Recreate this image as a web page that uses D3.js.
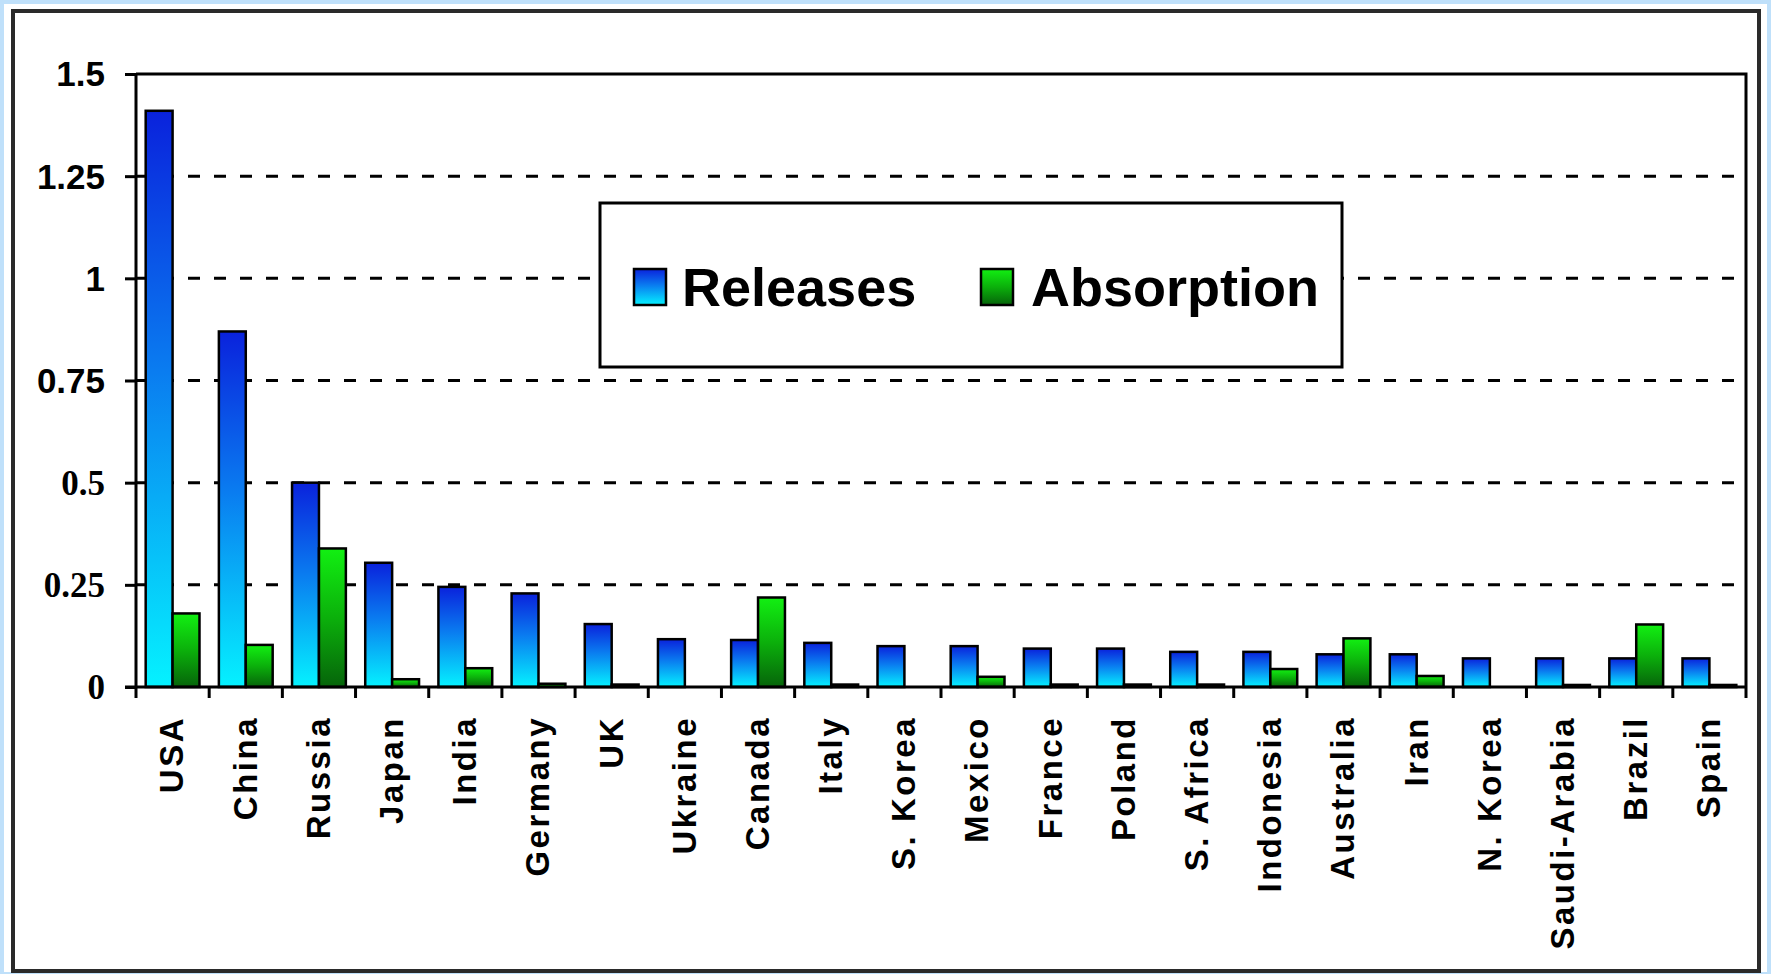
<!DOCTYPE html>
<html>
<head>
<meta charset="utf-8">
<script src="https://cdn.jsdelivr.net/npm/d3@7"></script>
<style>
  html, body { margin: 0; padding: 0; background: #bfe0fa; }
  #d3-container { width: 1771px; height: 974px; }
</style>
</head>
<body>
<div id="d3-container"></div>
<script>
// categories and series
const countries = ["USA", "China", "Russia", "Japan", "India", "Germany", "UK", "Ukraine",
  "Canada", "Italy", "S. Korea", "Mexico", "France", "Poland", "S. Africa", "Indonesia",
  "Australia", "Iran", "N. Korea", "Saudi-Arabia", "Brazil", "Spain"];
const releases = [1.41, 0.87, 0.5, 0.304, 0.245, 0.229, 0.154, 0.117, 0.115, 0.108, 0.1, 0.1,
  0.094, 0.094, 0.086, 0.086, 0.08, 0.08, 0.07, 0.07, 0.07, 0.07];
const absorption = [0.18, 0.103, 0.339, 0.019, 0.046, 0.008, 0.006, 0, 0.219, 0.006, 0, 0.025,
  0.006, 0.006, 0.006, 0.044, 0.119, 0.027, 0, 0.005, 0.153, 0.005];
const seriesNames = ["Releases", "Absorption"];
const yTicks = [0, 0.25, 0.5, 0.75, 1, 1.25, 1.5];

const width = 1771;
const height = 974;
const plot = { left: 136, right: 1746, top: 74, bottom: 687 };

const svg = d3.select('#d3-container')
  .append('svg')
  .attr('width', width)
  .attr('height', height);

// gradients for the two series
const defs = svg.append('defs');
const gBlue = defs.append('linearGradient').attr('id', 'gradBlue')
  .attr('x1', 0).attr('y1', 0).attr('x2', 0).attr('y2', 1);
gBlue.append('stop').attr('offset', '0%').attr('stop-color', '#0a22dc');
gBlue.append('stop').attr('offset', '45%').attr('stop-color', '#0a7cf0');
gBlue.append('stop').attr('offset', '100%').attr('stop-color', '#05f2ff');
const gGreen = defs.append('linearGradient').attr('id', 'gradGreen')
  .attr('x1', 0).attr('y1', 0).attr('x2', 0).attr('y2', 1);
gGreen.append('stop').attr('offset', '0%').attr('stop-color', '#12f012');
gGreen.append('stop').attr('offset', '50%').attr('stop-color', '#0bb00b');
gGreen.append('stop').attr('offset', '100%').attr('stop-color', '#06640a');
const fills = { Releases: 'url(#gradBlue)', Absorption: 'url(#gradGreen)' };

// white card with dark frame
svg.append('rect').attr('x', 4).attr('y', 4).attr('width', 1763).attr('height', 968)
  .attr('fill', '#ffffff');
svg.append('rect').attr('x', 13).attr('y', 11).attr('width', 1746).attr('height', 960)
  .attr('fill', 'none').attr('stroke', '#2a2a2a').attr('stroke-width', 4);

// scales
const x = d3.scaleBand()
  .domain(countries)
  .range([plot.left, plot.right])
  .padding(0);

const x1 = d3.scaleBand()
  .domain(seriesNames)
  .range([0, x.bandwidth()])
  .paddingInner(0)
  .paddingOuter(0.36);

const y = d3.scaleLinear()
  .domain([0, 1.5])
  .range([plot.bottom, plot.top]);

// dashed gridlines
svg.append('g')
  .selectAll('line')
  .data(yTicks.filter(d => d > 0 && d < 1.5))
  .join('line')
    .attr('x1', plot.left).attr('x2', plot.right)
    .attr('y1', d => y(d)).attr('y2', d => y(d))
    .attr('stroke', '#000').attr('stroke-width', 3)
    .attr('stroke-dasharray', '12,14');

// legend box (drawn over gridlines)
const legend = svg.append('g');
legend.append('rect').attr('x', 600).attr('y', 203).attr('width', 742).attr('height', 164)
  .attr('fill', '#fff').attr('stroke', '#000').attr('stroke-width', 3);
const legendPos = [{ sx: 634, tx: 682 }, { sx: 981, tx: 1031 }];
seriesNames.forEach((s, i) => {
  legend.append('rect').attr('x', legendPos[i].sx).attr('y', 269).attr('width', 32).attr('height', 36)
    .attr('fill', fills[s]).attr('stroke', '#000').attr('stroke-width', 2.5);
  legend.append('text').attr('x', legendPos[i].tx).attr('y', 306)
    .attr('font-family', 'Liberation Sans, Arial, sans-serif')
    .attr('font-weight', 'bold').attr('font-size', '54px')
    .attr('fill', '#000').text(s);
});

// bars
const rows = countries.map((c, i) => ({ country: c, Releases: releases[i], Absorption: absorption[i] }));
svg.append('g')
  .selectAll('g')
  .data(rows)
  .join('g')
    .attr('transform', d => `translate(${x(d.country)},0)`)
  .selectAll('rect')
  .data(d => seriesNames.map(s => ({ key: s, value: d[s] })).filter(v => v.value > 0))
  .join('rect')
    .attr('x', d => x1(d.key))
    .attr('width', x1.bandwidth())
    .attr('y', d => y(d.value))
    .attr('height', d => y(0) - y(d.value))
    .attr('fill', d => fills[d.key])
    .attr('stroke', '#000')
    .attr('stroke-width', 2.5);

// plot frame: top and right solid lines
svg.append('path')
  .attr('d', `M${plot.left},${plot.top}H${plot.right}V${plot.bottom}`)
  .attr('fill', 'none').attr('stroke', '#000').attr('stroke-width', 3);

// y axis
function yAxis(g) {
  g.attr('transform', `translate(${plot.left},0)`)
    .call(d3.axisLeft(y).tickValues(yTicks).tickSize(11).tickPadding(20)
      .tickFormat(d => d3.format('')(d)));
  g.select('.domain').attr('stroke-width', 3).attr('d', `M0,${plot.top}V${plot.bottom}`);
  g.selectAll('.tick line').attr('stroke-width', 3);
  g.selectAll('text')
    .attr('font-size', '35px')
    .attr('font-weight', 'bold')
    .attr('fill', '#000')
    .attr('dy', '0.34em')
    .attr('font-family', d => d < 0.75 ? 'Liberation Serif, Times New Roman, serif' : 'Liberation Sans, Arial, sans-serif');
}

// x axis: ticks at band edges, labels rotated
function xAxis(g) {
  g.attr('transform', `translate(0,${plot.bottom})`);
  g.append('line').attr('x1', plot.left - 11).attr('x2', plot.right)
    .attr('stroke', '#000').attr('stroke-width', 3);
  g.selectAll('line.edge')
    .data(countries.map(c => x(c)).concat([plot.right]))
    .join('line')
      .attr('class', 'edge')
      .attr('x1', d => d).attr('x2', d => d)
      .attr('y1', 0).attr('y2', 11)
      .attr('stroke', '#000').attr('stroke-width', 3);
  g.selectAll('text')
    .data(countries)
    .join('text')
      .attr('transform', d => `translate(${x(d) + x.bandwidth() / 2 - 1},29) rotate(-90)`)
      .attr('text-anchor', 'end')
      .attr('dy', '0.36em')
      .attr('font-family', 'Liberation Sans, Arial, sans-serif')
      .attr('font-weight', 'bold')
      .attr('font-size', '33px')
      .attr('letter-spacing', '2.5px')
      .attr('fill', '#000')
      .text(d => d);
}

svg.append('g').call(xAxis);
svg.append('g').call(yAxis);
</script>
</body>
</html>
